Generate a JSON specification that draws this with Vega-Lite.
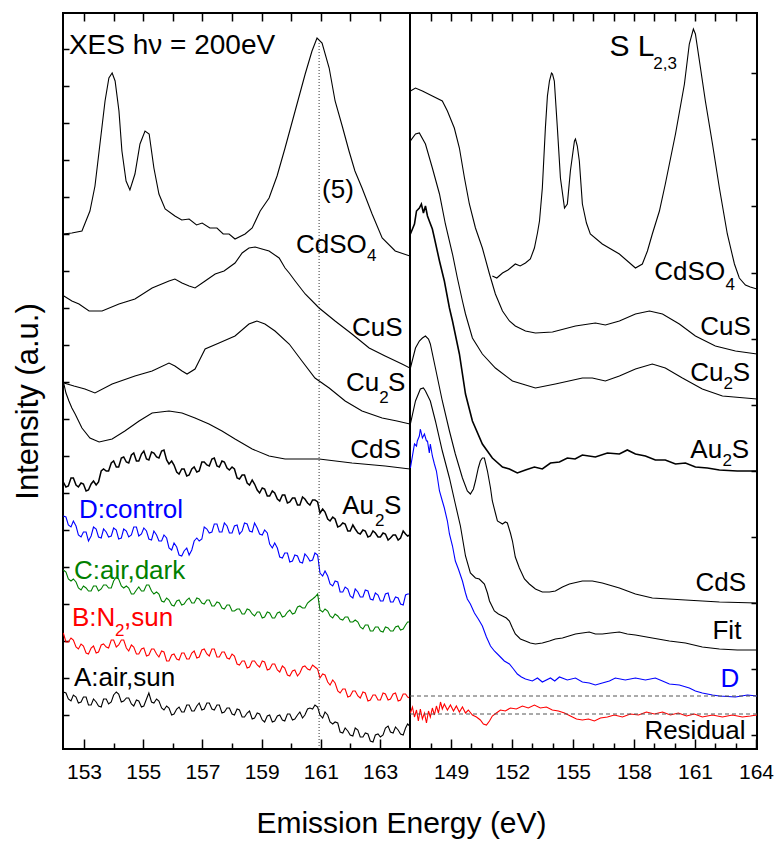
{
"$schema":"https://vega.github.io/schema/vega-lite/v6.json",
"padding":{"left":11,"top":11,"right":5,"bottom":5},
"background":"white",
"bounds":"flush",
"spacing":0,
"config":{"font":"Liberation Sans","view":{"stroke":"black","strokeWidth":2},"axis":{"grid":false,"domain":false,"tickColor":"black","tickWidth":1.5,"labelColor":"black","titleColor":"black","titleFontWeight":"normal","labelFlush":false}},
"datasets":{
"left":[
{"s":"CdSO4","x":152.29,"y":515},{"s":"CdSO4","x":152.59,"y":516},{"s":"CdSO4","x":152.93,"y":518},{"s":"CdSO4","x":153.2,"y":538},{"s":"CdSO4","x":153.37,"y":563},{"s":"CdSO4","x":153.51,"y":598},{"s":"CdSO4","x":153.61,"y":623},{"s":"CdSO4","x":153.71,"y":648},{"s":"CdSO4","x":153.84,"y":671},{"s":"CdSO4","x":153.95,"y":676},{"s":"CdSO4","x":154.05,"y":668},{"s":"CdSO4","x":154.18,"y":638},{"s":"CdSO4","x":154.28,"y":598},{"s":"CdSO4","x":154.42,"y":568},{"s":"CdSO4","x":154.55,"y":559},{"s":"CdSO4","x":154.72,"y":575},{"s":"CdSO4","x":154.89,"y":605},{"s":"CdSO4","x":155.06,"y":618},{"s":"CdSO4","x":155.2,"y":615},{"s":"CdSO4","x":155.36,"y":581},{"s":"CdSO4","x":155.53,"y":555},{"s":"CdSO4","x":155.74,"y":540},{"s":"CdSO4","x":156.07,"y":533},{"s":"CdSO4","x":156.3,"y":529},{"s":"CdSO4","x":156.55,"y":530},{"s":"CdSO4","x":156.8,"y":524},{"s":"CdSO4","x":156.99,"y":526},{"s":"CdSO4","x":157.25,"y":521},{"s":"CdSO4","x":157.49,"y":521},{"s":"CdSO4","x":157.7,"y":515},{"s":"CdSO4","x":157.9,"y":515},{"s":"CdSO4","x":158.1,"y":510},{"s":"CdSO4","x":158.44,"y":515},{"s":"CdSO4","x":158.68,"y":521},{"s":"CdSO4","x":158.95,"y":538},{"s":"CdSO4","x":159.25,"y":551},{"s":"CdSO4","x":159.52,"y":573},{"s":"CdSO4","x":159.79,"y":601},{"s":"CdSO4","x":160.13,"y":638},{"s":"CdSO4","x":160.47,"y":675},{"s":"CdSO4","x":160.7,"y":698},{"s":"CdSO4","x":160.87,"y":711},{"s":"CdSO4","x":161.04,"y":706},{"s":"CdSO4","x":161.28,"y":681},{"s":"CdSO4","x":161.48,"y":648},{"s":"CdSO4","x":161.72,"y":623},{"s":"CdSO4","x":161.95,"y":598},{"s":"CdSO4","x":162.15,"y":578},{"s":"CdSO4","x":162.39,"y":561},{"s":"CdSO4","x":162.73,"y":535},{"s":"CdSO4","x":163.07,"y":511},{"s":"CdSO4","x":163.51,"y":498},{"s":"CdSO4","x":164.01,"y":493},
{"s":"CuS","x":152.32,"y":453},{"s":"CuS","x":152.59,"y":448},{"s":"CuS","x":152.83,"y":445},{"s":"CuS","x":153.17,"y":438},{"s":"CuS","x":153.61,"y":438},{"s":"CuS","x":154.18,"y":445},{"s":"CuS","x":154.72,"y":450},{"s":"CuS","x":155.3,"y":461},{"s":"CuS","x":155.87,"y":468},{"s":"CuS","x":156.07,"y":470},{"s":"CuS","x":156.31,"y":466},{"s":"CuS","x":156.55,"y":463},{"s":"CuS","x":156.75,"y":461},{"s":"CuS","x":157.09,"y":468},{"s":"CuS","x":157.43,"y":475},{"s":"CuS","x":157.73,"y":478},{"s":"CuS","x":158.1,"y":486},{"s":"CuS","x":158.34,"y":496},{"s":"CuS","x":158.57,"y":501},{"s":"CuS","x":158.78,"y":502},{"s":"CuS","x":159.01,"y":500},{"s":"CuS","x":159.25,"y":498},{"s":"CuS","x":159.59,"y":491},{"s":"CuS","x":159.79,"y":481},{"s":"CuS","x":159.93,"y":476},{"s":"CuS","x":160.13,"y":468},{"s":"CuS","x":160.47,"y":455},{"s":"CuS","x":160.94,"y":441},{"s":"CuS","x":161.48,"y":428},{"s":"CuS","x":162.05,"y":415},{"s":"CuS","x":162.63,"y":401},{"s":"CuS","x":163.17,"y":393},{"s":"CuS","x":163.74,"y":385},{"s":"CuS","x":164.01,"y":381},
{"s":"Cu2S","x":152.32,"y":366},{"s":"Cu2S","x":152.66,"y":363},{"s":"Cu2S","x":153.03,"y":360},{"s":"Cu2S","x":153.37,"y":356},{"s":"Cu2S","x":153.95,"y":365},{"s":"Cu2S","x":154.72,"y":373},{"s":"Cu2S","x":155.3,"y":378},{"s":"Cu2S","x":155.87,"y":386},{"s":"Cu2S","x":156.07,"y":383},{"s":"Cu2S","x":156.31,"y":378},{"s":"Cu2S","x":156.48,"y":375},{"s":"Cu2S","x":156.75,"y":380},{"s":"Cu2S","x":156.92,"y":390},{"s":"Cu2S","x":157.09,"y":400},{"s":"Cu2S","x":157.56,"y":406},{"s":"Cu2S","x":158.1,"y":413},{"s":"Cu2S","x":158.57,"y":425},{"s":"Cu2S","x":158.84,"y":428},{"s":"Cu2S","x":159.11,"y":425},{"s":"Cu2S","x":159.45,"y":418},{"s":"Cu2S","x":159.93,"y":405},{"s":"Cu2S","x":160.36,"y":388},{"s":"Cu2S","x":160.8,"y":371},{"s":"Cu2S","x":161.28,"y":361},{"s":"Cu2S","x":161.82,"y":348},{"s":"Cu2S","x":162.39,"y":338},{"s":"Cu2S","x":163.07,"y":331},{"s":"Cu2S","x":163.57,"y":328},{"s":"Cu2S","x":164.01,"y":325},
{"s":"CdS","x":152.32,"y":365},{"s":"CdS","x":152.39,"y":356},{"s":"CdS","x":152.49,"y":348},{"s":"CdS","x":152.59,"y":341},{"s":"CdS","x":152.7,"y":335},{"s":"CdS","x":152.93,"y":321},{"s":"CdS","x":153.2,"y":311},{"s":"CdS","x":153.51,"y":307},{"s":"CdS","x":153.95,"y":310},{"s":"CdS","x":154.38,"y":318},{"s":"CdS","x":154.86,"y":328},{"s":"CdS","x":155.3,"y":336},{"s":"CdS","x":155.87,"y":338},{"s":"CdS","x":156.31,"y":336},{"s":"CdS","x":156.75,"y":331},{"s":"CdS","x":157.22,"y":325},{"s":"CdS","x":157.66,"y":318},{"s":"CdS","x":158.1,"y":310},{"s":"CdS","x":158.68,"y":300},{"s":"CdS","x":159.25,"y":293},{"s":"CdS","x":159.79,"y":290},{"s":"CdS","x":160.94,"y":290},{"s":"CdS","x":162.05,"y":286},{"s":"CdS","x":163.17,"y":283},{"s":"CdS","x":164.01,"y":280},
{"s":"Au2S","x":152.3,"y":267},{"s":"Au2S","x":152.47,"y":263},{"s":"Au2S","x":152.64,"y":271},{"s":"Au2S","x":152.81,"y":262},{"s":"Au2S","x":152.98,"y":265},{"s":"Au2S","x":153.15,"y":259},{"s":"Au2S","x":153.32,"y":268},{"s":"Au2S","x":153.49,"y":267},{"s":"Au2S","x":153.66,"y":280},{"s":"Au2S","x":153.83,"y":278},{"s":"Au2S","x":154.0,"y":288},{"s":"Au2S","x":154.17,"y":282},{"s":"Au2S","x":154.34,"y":292},{"s":"Au2S","x":154.51,"y":286},{"s":"Au2S","x":154.68,"y":296},{"s":"Au2S","x":154.85,"y":288},{"s":"Au2S","x":155.02,"y":298},{"s":"Au2S","x":155.19,"y":289},{"s":"Au2S","x":155.36,"y":296},{"s":"Au2S","x":155.53,"y":291},{"s":"Au2S","x":155.7,"y":299},{"s":"Au2S","x":155.87,"y":285},{"s":"Au2S","x":156.04,"y":284},{"s":"Au2S","x":156.21,"y":275},{"s":"Au2S","x":156.38,"y":280},{"s":"Au2S","x":156.55,"y":274},{"s":"Au2S","x":156.72,"y":282},{"s":"Au2S","x":156.89,"y":278},{"s":"Au2S","x":157.06,"y":287},{"s":"Au2S","x":157.23,"y":283},{"s":"Au2S","x":157.4,"y":291},{"s":"Au2S","x":157.57,"y":282},{"s":"Au2S","x":157.74,"y":287},{"s":"Au2S","x":157.91,"y":279},{"s":"Au2S","x":158.08,"y":280},{"s":"Au2S","x":158.25,"y":270},{"s":"Au2S","x":158.42,"y":274},{"s":"Au2S","x":158.59,"y":264},{"s":"Au2S","x":158.76,"y":265},{"s":"Au2S","x":158.93,"y":256},{"s":"Au2S","x":159.1,"y":260},{"s":"Au2S","x":159.27,"y":253},{"s":"Au2S","x":159.44,"y":256},{"s":"Au2S","x":159.61,"y":248},{"s":"Au2S","x":159.78,"y":254},{"s":"Au2S","x":159.95,"y":247},{"s":"Au2S","x":160.12,"y":251},{"s":"Au2S","x":160.29,"y":244},{"s":"Au2S","x":160.46,"y":250},{"s":"Au2S","x":160.63,"y":244},{"s":"Au2S","x":160.8,"y":249},{"s":"Au2S","x":160.97,"y":236},{"s":"Au2S","x":161.14,"y":237},{"s":"Au2S","x":161.31,"y":228},{"s":"Au2S","x":161.48,"y":230},{"s":"Au2S","x":161.65,"y":223},{"s":"Au2S","x":161.82,"y":225},{"s":"Au2S","x":161.99,"y":218},{"s":"Au2S","x":162.16,"y":220},{"s":"Au2S","x":162.33,"y":215},{"s":"Au2S","x":162.5,"y":218},{"s":"Au2S","x":162.67,"y":213},{"s":"Au2S","x":162.84,"y":216},{"s":"Au2S","x":163.01,"y":212},{"s":"Au2S","x":163.18,"y":215},{"s":"Au2S","x":163.35,"y":211},{"s":"Au2S","x":163.52,"y":214},{"s":"Au2S","x":163.69,"y":211},{"s":"Au2S","x":163.86,"y":215},{"s":"Au2S","x":164.0,"y":214},
{"s":"Au2S","x":152.39,"y":262},{"s":"Au2S","x":152.56,"y":271},{"s":"Au2S","x":152.73,"y":264},{"s":"Au2S","x":152.9,"y":266},{"s":"Au2S","x":153.07,"y":258},{"s":"Au2S","x":153.24,"y":265},{"s":"Au2S","x":153.41,"y":264},{"s":"Au2S","x":153.58,"y":278},{"s":"Au2S","x":153.75,"y":278},{"s":"Au2S","x":153.92,"y":286},{"s":"Au2S","x":154.09,"y":282},{"s":"Au2S","x":154.26,"y":291},{"s":"Au2S","x":154.43,"y":287},{"s":"Au2S","x":154.6,"y":294},{"s":"Au2S","x":154.77,"y":288},{"s":"Au2S","x":154.94,"y":295},{"s":"Au2S","x":155.11,"y":290},{"s":"Au2S","x":155.28,"y":297},{"s":"Au2S","x":155.45,"y":292},{"s":"Au2S","x":155.62,"y":298},{"s":"Au2S","x":155.79,"y":289},{"s":"Au2S","x":155.96,"y":288},{"s":"Au2S","x":156.13,"y":277},{"s":"Au2S","x":156.3,"y":280},{"s":"Au2S","x":156.47,"y":273},{"s":"Au2S","x":156.64,"y":280},{"s":"Au2S","x":156.81,"y":277},{"s":"Au2S","x":156.98,"y":287},{"s":"Au2S","x":157.15,"y":284},{"s":"Au2S","x":157.32,"y":290},{"s":"Au2S","x":157.49,"y":283},{"s":"Au2S","x":157.66,"y":288},{"s":"Au2S","x":157.83,"y":281},{"s":"Au2S","x":158.0,"y":282},{"s":"Au2S","x":158.17,"y":271},{"s":"Au2S","x":158.34,"y":274},{"s":"Au2S","x":158.51,"y":266},{"s":"Au2S","x":158.68,"y":269},{"s":"Au2S","x":158.85,"y":259},{"s":"Au2S","x":159.02,"y":261},{"s":"Au2S","x":159.19,"y":253},{"s":"Au2S","x":159.36,"y":258},{"s":"Au2S","x":159.53,"y":250},{"s":"Au2S","x":159.7,"y":254},{"s":"Au2S","x":159.87,"y":246},{"s":"Au2S","x":160.04,"y":251},{"s":"Au2S","x":160.21,"y":244},{"s":"Au2S","x":160.38,"y":252},{"s":"Au2S","x":160.55,"y":246},{"s":"Au2S","x":160.72,"y":249},{"s":"Au2S","x":160.89,"y":247},{"s":"Au2S","x":161.06,"y":240},{"s":"Au2S","x":161.23,"y":230},{"s":"Au2S","x":161.4,"y":232},{"s":"Au2S","x":161.57,"y":222},{"s":"Au2S","x":161.74,"y":226},{"s":"Au2S","x":161.91,"y":218},{"s":"Au2S","x":162.08,"y":224},{"s":"Au2S","x":162.25,"y":216},{"s":"Au2S","x":162.42,"y":219},{"s":"Au2S","x":162.59,"y":212},{"s":"Au2S","x":162.76,"y":218},{"s":"Au2S","x":162.93,"y":212},{"s":"Au2S","x":163.1,"y":216},{"s":"Au2S","x":163.27,"y":209},{"s":"Au2S","x":163.44,"y":214},{"s":"Au2S","x":163.61,"y":209},{"s":"Au2S","x":163.78,"y":218},{"s":"Au2S","x":163.93,"y":213},
{"s":"D","x":152.3,"y":233},{"s":"D","x":152.47,"y":224},{"s":"D","x":152.64,"y":228},{"s":"D","x":152.81,"y":214},{"s":"D","x":152.98,"y":217},{"s":"D","x":153.15,"y":208},{"s":"D","x":153.32,"y":222},{"s":"D","x":153.49,"y":212},{"s":"D","x":153.66,"y":220},{"s":"D","x":153.83,"y":212},{"s":"D","x":154.0,"y":221},{"s":"D","x":154.17,"y":210},{"s":"D","x":154.34,"y":220},{"s":"D","x":154.51,"y":212},{"s":"D","x":154.68,"y":222},{"s":"D","x":154.85,"y":213},{"s":"D","x":155.02,"y":221},{"s":"D","x":155.19,"y":210},{"s":"D","x":155.36,"y":218},{"s":"D","x":155.53,"y":208},{"s":"D","x":155.7,"y":214},{"s":"D","x":155.87,"y":201},{"s":"D","x":156.04,"y":206},{"s":"D","x":156.21,"y":194},{"s":"D","x":156.38,"y":198},{"s":"D","x":156.55,"y":194},{"s":"D","x":156.72,"y":208},{"s":"D","x":156.89,"y":208},{"s":"D","x":157.06,"y":222},{"s":"D","x":157.23,"y":216},{"s":"D","x":157.4,"y":225},{"s":"D","x":157.57,"y":217},{"s":"D","x":157.74,"y":226},{"s":"D","x":157.91,"y":216},{"s":"D","x":158.08,"y":223},{"s":"D","x":158.25,"y":215},{"s":"D","x":158.42,"y":226},{"s":"D","x":158.59,"y":218},{"s":"D","x":158.76,"y":226},{"s":"D","x":158.93,"y":215},{"s":"D","x":159.1,"y":219},{"s":"D","x":159.27,"y":205},{"s":"D","x":159.44,"y":206},{"s":"D","x":159.61,"y":192},{"s":"D","x":159.78,"y":196},{"s":"D","x":159.95,"y":187},{"s":"D","x":160.12,"y":194},{"s":"D","x":160.29,"y":187},{"s":"D","x":160.46,"y":195},{"s":"D","x":160.63,"y":188},{"s":"D","x":160.8,"y":196},{"s":"D","x":160.97,"y":176},{"s":"D","x":161.14,"y":178},{"s":"D","x":161.31,"y":165},{"s":"D","x":161.48,"y":168},{"s":"D","x":161.65,"y":157},{"s":"D","x":161.82,"y":162},{"s":"D","x":161.99,"y":153},{"s":"D","x":162.16,"y":160},{"s":"D","x":162.33,"y":152},{"s":"D","x":162.5,"y":159},{"s":"D","x":162.67,"y":150},{"s":"D","x":162.84,"y":156},{"s":"D","x":163.01,"y":148},{"s":"D","x":163.18,"y":155},{"s":"D","x":163.35,"y":147},{"s":"D","x":163.52,"y":152},{"s":"D","x":163.69,"y":145},{"s":"D","x":163.86,"y":154},{"s":"D","x":164.0,"y":155},
{"s":"D","x":152.39,"y":232},{"s":"D","x":152.56,"y":222},{"s":"D","x":152.73,"y":223},{"s":"D","x":152.9,"y":212},{"s":"D","x":153.07,"y":217},{"s":"D","x":153.24,"y":213},{"s":"D","x":153.41,"y":220},{"s":"D","x":153.58,"y":211},{"s":"D","x":153.75,"y":217},{"s":"D","x":153.92,"y":213},{"s":"D","x":154.09,"y":219},{"s":"D","x":154.26,"y":211},{"s":"D","x":154.43,"y":218},{"s":"D","x":154.6,"y":214},{"s":"D","x":154.77,"y":222},{"s":"D","x":154.94,"y":215},{"s":"D","x":155.11,"y":218},{"s":"D","x":155.28,"y":209},{"s":"D","x":155.45,"y":214},{"s":"D","x":155.62,"y":208},{"s":"D","x":155.79,"y":211},{"s":"D","x":155.96,"y":199},{"s":"D","x":156.13,"y":202},{"s":"D","x":156.3,"y":193},{"s":"D","x":156.47,"y":201},{"s":"D","x":156.64,"y":199},{"s":"D","x":156.81,"y":211},{"s":"D","x":156.98,"y":210},{"s":"D","x":157.15,"y":220},{"s":"D","x":157.32,"y":217},{"s":"D","x":157.49,"y":225},{"s":"D","x":157.66,"y":217},{"s":"D","x":157.83,"y":223},{"s":"D","x":158.0,"y":216},{"s":"D","x":158.17,"y":224},{"s":"D","x":158.34,"y":218},{"s":"D","x":158.51,"y":225},{"s":"D","x":158.68,"y":217},{"s":"D","x":158.85,"y":221},{"s":"D","x":159.02,"y":214},{"s":"D","x":159.19,"y":216},{"s":"D","x":159.36,"y":201},{"s":"D","x":159.53,"y":201},{"s":"D","x":159.7,"y":191},{"s":"D","x":159.87,"y":196},{"s":"D","x":160.04,"y":188},{"s":"D","x":160.21,"y":193},{"s":"D","x":160.38,"y":186},{"s":"D","x":160.55,"y":192},{"s":"D","x":160.72,"y":189},{"s":"D","x":160.89,"y":194},{"s":"D","x":161.06,"y":173},{"s":"D","x":161.23,"y":173},{"s":"D","x":161.4,"y":163},{"s":"D","x":161.57,"y":167},{"s":"D","x":161.74,"y":157},{"s":"D","x":161.91,"y":160},{"s":"D","x":162.08,"y":151},{"s":"D","x":162.25,"y":157},{"s":"D","x":162.42,"y":152},{"s":"D","x":162.59,"y":158},{"s":"D","x":162.76,"y":149},{"s":"D","x":162.93,"y":154},{"s":"D","x":163.1,"y":148},{"s":"D","x":163.27,"y":156},{"s":"D","x":163.44,"y":147},{"s":"D","x":163.61,"y":151},{"s":"D","x":163.78,"y":144},{"s":"D","x":163.93,"y":155},
{"s":"C","x":152.3,"y":179},{"s":"C","x":152.47,"y":170},{"s":"C","x":152.64,"y":170},{"s":"C","x":152.81,"y":161},{"s":"C","x":152.98,"y":163},{"s":"C","x":153.15,"y":158},{"s":"C","x":153.32,"y":163},{"s":"C","x":153.49,"y":158},{"s":"C","x":153.66,"y":164},{"s":"C","x":153.83,"y":161},{"s":"C","x":154.0,"y":168},{"s":"C","x":154.17,"y":170},{"s":"C","x":154.34,"y":161},{"s":"C","x":154.51,"y":161},{"s":"C","x":154.68,"y":155},{"s":"C","x":154.85,"y":162},{"s":"C","x":155.02,"y":158},{"s":"C","x":155.19,"y":164},{"s":"C","x":155.36,"y":155},{"s":"C","x":155.53,"y":155},{"s":"C","x":155.7,"y":147},{"s":"C","x":155.87,"y":149},{"s":"C","x":156.04,"y":143},{"s":"C","x":156.21,"y":149},{"s":"C","x":156.38,"y":145},{"s":"C","x":156.55,"y":151},{"s":"C","x":156.72,"y":146},{"s":"C","x":156.89,"y":150},{"s":"C","x":157.06,"y":145},{"s":"C","x":157.23,"y":149},{"s":"C","x":157.4,"y":143},{"s":"C","x":157.57,"y":146},{"s":"C","x":157.74,"y":140},{"s":"C","x":157.91,"y":144},{"s":"C","x":158.08,"y":138},{"s":"C","x":158.25,"y":140},{"s":"C","x":158.42,"y":135},{"s":"C","x":158.59,"y":139},{"s":"C","x":158.76,"y":133},{"s":"C","x":158.93,"y":137},{"s":"C","x":159.1,"y":132},{"s":"C","x":159.27,"y":136},{"s":"C","x":159.44,"y":131},{"s":"C","x":159.61,"y":137},{"s":"C","x":159.78,"y":133},{"s":"C","x":159.95,"y":139},{"s":"C","x":160.12,"y":136},{"s":"C","x":160.29,"y":143},{"s":"C","x":160.46,"y":141},{"s":"C","x":160.63,"y":148},{"s":"C","x":160.8,"y":152},{"s":"C","x":160.97,"y":139},{"s":"C","x":161.14,"y":140},{"s":"C","x":161.31,"y":133},{"s":"C","x":161.48,"y":135},{"s":"C","x":161.65,"y":130},{"s":"C","x":161.82,"y":132},{"s":"C","x":161.99,"y":127},{"s":"C","x":162.16,"y":129},{"s":"C","x":162.33,"y":122},{"s":"C","x":162.5,"y":124},{"s":"C","x":162.67,"y":118},{"s":"C","x":162.84,"y":122},{"s":"C","x":163.01,"y":118},{"s":"C","x":163.18,"y":122},{"s":"C","x":163.35,"y":118},{"s":"C","x":163.52,"y":122},{"s":"C","x":163.69,"y":119},{"s":"C","x":163.86,"y":124},{"s":"C","x":164.0,"y":127},
{"s":"C","x":152.39,"y":177},{"s":"C","x":152.56,"y":168},{"s":"C","x":152.73,"y":167},{"s":"C","x":152.9,"y":159},{"s":"C","x":153.07,"y":161},{"s":"C","x":153.24,"y":158},{"s":"C","x":153.41,"y":163},{"s":"C","x":153.58,"y":160},{"s":"C","x":153.75,"y":164},{"s":"C","x":153.92,"y":161},{"s":"C","x":154.09,"y":172},{"s":"C","x":154.26,"y":163},{"s":"C","x":154.43,"y":163},{"s":"C","x":154.6,"y":155},{"s":"C","x":154.77,"y":159},{"s":"C","x":154.94,"y":158},{"s":"C","x":155.11,"y":164},{"s":"C","x":155.28,"y":158},{"s":"C","x":155.45,"y":157},{"s":"C","x":155.62,"y":148},{"s":"C","x":155.79,"y":151},{"s":"C","x":155.96,"y":144},{"s":"C","x":156.13,"y":148},{"s":"C","x":156.3,"y":144},{"s":"C","x":156.47,"y":149},{"s":"C","x":156.64,"y":146},{"s":"C","x":156.81,"y":151},{"s":"C","x":156.98,"y":146},{"s":"C","x":157.15,"y":149},{"s":"C","x":157.32,"y":143},{"s":"C","x":157.49,"y":147},{"s":"C","x":157.66,"y":141},{"s":"C","x":157.83,"y":144},{"s":"C","x":158.0,"y":138},{"s":"C","x":158.17,"y":140},{"s":"C","x":158.34,"y":135},{"s":"C","x":158.51,"y":140},{"s":"C","x":158.68,"y":135},{"s":"C","x":158.85,"y":137},{"s":"C","x":159.02,"y":131},{"s":"C","x":159.19,"y":137},{"s":"C","x":159.36,"y":131},{"s":"C","x":159.53,"y":136},{"s":"C","x":159.7,"y":132},{"s":"C","x":159.87,"y":137},{"s":"C","x":160.04,"y":135},{"s":"C","x":160.21,"y":142},{"s":"C","x":160.38,"y":141},{"s":"C","x":160.55,"y":146},{"s":"C","x":160.72,"y":150},{"s":"C","x":160.89,"y":155},{"s":"C","x":161.06,"y":137},{"s":"C","x":161.23,"y":138},{"s":"C","x":161.4,"y":131},{"s":"C","x":161.57,"y":133},{"s":"C","x":161.74,"y":129},{"s":"C","x":161.91,"y":132},{"s":"C","x":162.08,"y":127},{"s":"C","x":162.25,"y":127},{"s":"C","x":162.42,"y":120},{"s":"C","x":162.59,"y":124},{"s":"C","x":162.76,"y":118},{"s":"C","x":162.93,"y":122},{"s":"C","x":163.1,"y":117},{"s":"C","x":163.27,"y":121},{"s":"C","x":163.44,"y":118},{"s":"C","x":163.61,"y":123},{"s":"C","x":163.78,"y":120},{"s":"C","x":163.93,"y":127},
{"s":"B","x":152.3,"y":116},{"s":"B","x":152.47,"y":107},{"s":"B","x":152.64,"y":109},{"s":"B","x":152.81,"y":100},{"s":"B","x":152.98,"y":103},{"s":"B","x":153.15,"y":95},{"s":"B","x":153.32,"y":103},{"s":"B","x":153.49,"y":97},{"s":"B","x":153.66,"y":105},{"s":"B","x":153.83,"y":101},{"s":"B","x":154.0,"y":109},{"s":"B","x":154.17,"y":104},{"s":"B","x":154.34,"y":109},{"s":"B","x":154.51,"y":98},{"s":"B","x":154.68,"y":102},{"s":"B","x":154.85,"y":95},{"s":"B","x":155.02,"y":101},{"s":"B","x":155.19,"y":94},{"s":"B","x":155.36,"y":100},{"s":"B","x":155.53,"y":92},{"s":"B","x":155.7,"y":97},{"s":"B","x":155.87,"y":88},{"s":"B","x":156.04,"y":95},{"s":"B","x":156.21,"y":89},{"s":"B","x":156.38,"y":96},{"s":"B","x":156.55,"y":90},{"s":"B","x":156.72,"y":98},{"s":"B","x":156.89,"y":92},{"s":"B","x":157.06,"y":100},{"s":"B","x":157.23,"y":93},{"s":"B","x":157.4,"y":100},{"s":"B","x":157.57,"y":92},{"s":"B","x":157.74,"y":97},{"s":"B","x":157.91,"y":90},{"s":"B","x":158.08,"y":93},{"s":"B","x":158.25,"y":84},{"s":"B","x":158.42,"y":88},{"s":"B","x":158.59,"y":82},{"s":"B","x":158.76,"y":88},{"s":"B","x":158.93,"y":82},{"s":"B","x":159.1,"y":87},{"s":"B","x":159.27,"y":80},{"s":"B","x":159.44,"y":85},{"s":"B","x":159.61,"y":77},{"s":"B","x":159.78,"y":81},{"s":"B","x":159.95,"y":73},{"s":"B","x":160.12,"y":79},{"s":"B","x":160.29,"y":76},{"s":"B","x":160.46,"y":83},{"s":"B","x":160.63,"y":79},{"s":"B","x":160.8,"y":82},{"s":"B","x":160.97,"y":71},{"s":"B","x":161.14,"y":74},{"s":"B","x":161.31,"y":64},{"s":"B","x":161.48,"y":66},{"s":"B","x":161.65,"y":56},{"s":"B","x":161.82,"y":60},{"s":"B","x":161.99,"y":53},{"s":"B","x":162.16,"y":58},{"s":"B","x":162.33,"y":51},{"s":"B","x":162.5,"y":56},{"s":"B","x":162.67,"y":49},{"s":"B","x":162.84,"y":54},{"s":"B","x":163.01,"y":49},{"s":"B","x":163.18,"y":55},{"s":"B","x":163.35,"y":50},{"s":"B","x":163.52,"y":56},{"s":"B","x":163.69,"y":49},{"s":"B","x":163.86,"y":55},{"s":"B","x":164.0,"y":51},
{"s":"B","x":152.39,"y":107},{"s":"B","x":152.56,"y":111},{"s":"B","x":152.73,"y":102},{"s":"B","x":152.9,"y":105},{"s":"B","x":153.07,"y":96},{"s":"B","x":153.24,"y":101},{"s":"B","x":153.41,"y":96},{"s":"B","x":153.58,"y":104},{"s":"B","x":153.75,"y":102},{"s":"B","x":153.92,"y":109},{"s":"B","x":154.09,"y":102},{"s":"B","x":154.26,"y":109},{"s":"B","x":154.43,"y":101},{"s":"B","x":154.6,"y":104},{"s":"B","x":154.77,"y":95},{"s":"B","x":154.94,"y":100},{"s":"B","x":155.11,"y":93},{"s":"B","x":155.28,"y":100},{"s":"B","x":155.45,"y":95},{"s":"B","x":155.62,"y":98},{"s":"B","x":155.79,"y":88},{"s":"B","x":155.96,"y":94},{"s":"B","x":156.13,"y":90},{"s":"B","x":156.3,"y":96},{"s":"B","x":156.47,"y":90},{"s":"B","x":156.64,"y":96},{"s":"B","x":156.81,"y":91},{"s":"B","x":156.98,"y":99},{"s":"B","x":157.15,"y":95},{"s":"B","x":157.32,"y":100},{"s":"B","x":157.49,"y":92},{"s":"B","x":157.66,"y":97},{"s":"B","x":157.83,"y":91},{"s":"B","x":158.0,"y":95},{"s":"B","x":158.17,"y":85},{"s":"B","x":158.34,"y":88},{"s":"B","x":158.51,"y":81},{"s":"B","x":158.68,"y":88},{"s":"B","x":158.85,"y":84},{"s":"B","x":159.02,"y":88},{"s":"B","x":159.19,"y":79},{"s":"B","x":159.36,"y":85},{"s":"B","x":159.53,"y":79},{"s":"B","x":159.7,"y":83},{"s":"B","x":159.87,"y":74},{"s":"B","x":160.04,"y":78},{"s":"B","x":160.21,"y":73},{"s":"B","x":160.38,"y":82},{"s":"B","x":160.55,"y":80},{"s":"B","x":160.72,"y":84},{"s":"B","x":160.89,"y":80},{"s":"B","x":161.06,"y":75},{"s":"B","x":161.23,"y":67},{"s":"B","x":161.4,"y":69},{"s":"B","x":161.57,"y":58},{"s":"B","x":161.74,"y":60},{"s":"B","x":161.91,"y":52},{"s":"B","x":162.08,"y":58},{"s":"B","x":162.25,"y":53},{"s":"B","x":162.42,"y":57},{"s":"B","x":162.59,"y":48},{"s":"B","x":162.76,"y":54},{"s":"B","x":162.93,"y":49},{"s":"B","x":163.1,"y":56},{"s":"B","x":163.27,"y":49},{"s":"B","x":163.44,"y":55},{"s":"B","x":163.61,"y":48},{"s":"B","x":163.78,"y":55},{"s":"B","x":163.93,"y":52},
{"s":"A","x":152.3,"y":57},{"s":"A","x":152.47,"y":50},{"s":"A","x":152.64,"y":54},{"s":"A","x":152.81,"y":46},{"s":"A","x":152.98,"y":52},{"s":"A","x":153.15,"y":44},{"s":"A","x":153.32,"y":50},{"s":"A","x":153.49,"y":43},{"s":"A","x":153.66,"y":50},{"s":"A","x":153.83,"y":45},{"s":"A","x":154.0,"y":54},{"s":"A","x":154.17,"y":55},{"s":"A","x":154.34,"y":48},{"s":"A","x":154.51,"y":51},{"s":"A","x":154.68,"y":43},{"s":"A","x":154.85,"y":48},{"s":"A","x":155.02,"y":43},{"s":"A","x":155.19,"y":56},{"s":"A","x":155.36,"y":46},{"s":"A","x":155.53,"y":48},{"s":"A","x":155.7,"y":39},{"s":"A","x":155.87,"y":41},{"s":"A","x":156.04,"y":35},{"s":"A","x":156.21,"y":42},{"s":"A","x":156.38,"y":37},{"s":"A","x":156.55,"y":44},{"s":"A","x":156.72,"y":38},{"s":"A","x":156.89,"y":46},{"s":"A","x":157.06,"y":40},{"s":"A","x":157.23,"y":46},{"s":"A","x":157.4,"y":39},{"s":"A","x":157.57,"y":44},{"s":"A","x":157.74,"y":37},{"s":"A","x":157.91,"y":41},{"s":"A","x":158.08,"y":34},{"s":"A","x":158.25,"y":39},{"s":"A","x":158.42,"y":32},{"s":"A","x":158.59,"y":38},{"s":"A","x":158.76,"y":31},{"s":"A","x":158.93,"y":35},{"s":"A","x":159.1,"y":27},{"s":"A","x":159.27,"y":34},{"s":"A","x":159.44,"y":28},{"s":"A","x":159.61,"y":34},{"s":"A","x":159.78,"y":28},{"s":"A","x":159.95,"y":35},{"s":"A","x":160.12,"y":30},{"s":"A","x":160.29,"y":37},{"s":"A","x":160.46,"y":34},{"s":"A","x":160.63,"y":41},{"s":"A","x":160.8,"y":44},{"s":"A","x":160.97,"y":34},{"s":"A","x":161.14,"y":37},{"s":"A","x":161.31,"y":27},{"s":"A","x":161.48,"y":27},{"s":"A","x":161.65,"y":17},{"s":"A","x":161.82,"y":21},{"s":"A","x":161.99,"y":14},{"s":"A","x":162.16,"y":21},{"s":"A","x":162.33,"y":12},{"s":"A","x":162.5,"y":16},{"s":"A","x":162.67,"y":8},{"s":"A","x":162.84,"y":14},{"s":"A","x":163.01,"y":12},{"s":"A","x":163.18,"y":21},{"s":"A","x":163.35,"y":17},{"s":"A","x":163.52,"y":22},{"s":"A","x":163.69,"y":15},{"s":"A","x":163.86,"y":21},{"s":"A","x":164.0,"y":23},
{"s":"A","x":152.39,"y":56},{"s":"A","x":152.56,"y":48},{"s":"A","x":152.73,"y":52},{"s":"A","x":152.9,"y":47},{"s":"A","x":153.07,"y":52},{"s":"A","x":153.24,"y":44},{"s":"A","x":153.41,"y":47},{"s":"A","x":153.58,"y":42},{"s":"A","x":153.75,"y":50},{"s":"A","x":153.92,"y":47},{"s":"A","x":154.09,"y":57},{"s":"A","x":154.26,"y":47},{"s":"A","x":154.43,"y":51},{"s":"A","x":154.6,"y":45},{"s":"A","x":154.77,"y":49},{"s":"A","x":154.94,"y":42},{"s":"A","x":155.11,"y":50},{"s":"A","x":155.28,"y":47},{"s":"A","x":155.45,"y":50},{"s":"A","x":155.62,"y":41},{"s":"A","x":155.79,"y":43},{"s":"A","x":155.96,"y":34},{"s":"A","x":156.13,"y":40},{"s":"A","x":156.3,"y":37},{"s":"A","x":156.47,"y":44},{"s":"A","x":156.64,"y":38},{"s":"A","x":156.81,"y":43},{"s":"A","x":156.98,"y":39},{"s":"A","x":157.15,"y":46},{"s":"A","x":157.32,"y":40},{"s":"A","x":157.49,"y":44},{"s":"A","x":157.66,"y":36},{"s":"A","x":157.83,"y":41},{"s":"A","x":158.0,"y":35},{"s":"A","x":158.17,"y":40},{"s":"A","x":158.34,"y":32},{"s":"A","x":158.51,"y":36},{"s":"A","x":158.68,"y":30},{"s":"A","x":158.85,"y":36},{"s":"A","x":159.02,"y":29},{"s":"A","x":159.19,"y":33},{"s":"A","x":159.36,"y":27},{"s":"A","x":159.53,"y":33},{"s":"A","x":159.7,"y":29},{"s":"A","x":159.87,"y":35},{"s":"A","x":160.04,"y":29},{"s":"A","x":160.21,"y":34},{"s":"A","x":160.38,"y":31},{"s":"A","x":160.55,"y":40},{"s":"A","x":160.72,"y":40},{"s":"A","x":160.89,"y":42},{"s":"A","x":161.06,"y":31},{"s":"A","x":161.23,"y":34},{"s":"A","x":161.4,"y":25},{"s":"A","x":161.57,"y":26},{"s":"A","x":161.74,"y":16},{"s":"A","x":161.91,"y":18},{"s":"A","x":162.08,"y":13},{"s":"A","x":162.25,"y":19},{"s":"A","x":162.42,"y":12},{"s":"A","x":162.59,"y":15},{"s":"A","x":162.76,"y":7},{"s":"A","x":162.93,"y":15},{"s":"A","x":163.1,"y":14},{"s":"A","x":163.27,"y":23},{"s":"A","x":163.44,"y":16},{"s":"A","x":163.61,"y":19},{"s":"A","x":163.78,"y":14},{"s":"A","x":163.93,"y":25}
],
"right":[
{"s":"CdSO4","x":151.03,"y":473},{"s":"CdSO4","x":151.25,"y":471},{"s":"CdSO4","x":151.53,"y":476},{"s":"CdSO4","x":151.8,"y":479},{"s":"CdSO4","x":152.16,"y":485},{"s":"CdSO4","x":152.4,"y":483},{"s":"CdSO4","x":152.66,"y":486},{"s":"CdSO4","x":152.9,"y":490},{"s":"CdSO4","x":153.1,"y":501},{"s":"CdSO4","x":153.25,"y":516},{"s":"CdSO4","x":153.35,"y":528},{"s":"CdSO4","x":153.49,"y":561},{"s":"CdSO4","x":153.64,"y":621},{"s":"CdSO4","x":153.74,"y":653},{"s":"CdSO4","x":153.84,"y":668},{"s":"CdSO4","x":153.94,"y":676},{"s":"CdSO4","x":153.99,"y":675},{"s":"CdSO4","x":154.08,"y":668},{"s":"CdSO4","x":154.23,"y":621},{"s":"CdSO4","x":154.38,"y":571},{"s":"CdSO4","x":154.58,"y":541},{"s":"CdSO4","x":154.72,"y":545},{"s":"CdSO4","x":154.87,"y":578},{"s":"CdSO4","x":155.07,"y":608},{"s":"CdSO4","x":155.12,"y":610},{"s":"CdSO4","x":155.21,"y":603},{"s":"CdSO4","x":155.31,"y":588},{"s":"CdSO4","x":155.46,"y":545},{"s":"CdSO4","x":155.66,"y":526},{"s":"CdSO4","x":155.85,"y":515},{"s":"CdSO4","x":156.44,"y":505},{"s":"CdSO4","x":157.28,"y":495},{"s":"CdSO4","x":158.07,"y":481},{"s":"CdSO4","x":158.41,"y":485},{"s":"CdSO4","x":158.66,"y":498},{"s":"CdSO4","x":158.9,"y":515},{"s":"CdSO4","x":159.25,"y":538},{"s":"CdSO4","x":159.54,"y":565},{"s":"CdSO4","x":160.04,"y":615},{"s":"CdSO4","x":160.48,"y":665},{"s":"CdSO4","x":160.72,"y":705},{"s":"CdSO4","x":160.92,"y":720},{"s":"CdSO4","x":161.02,"y":715},{"s":"CdSO4","x":161.27,"y":681},{"s":"CdSO4","x":161.51,"y":648},{"s":"CdSO4","x":161.86,"y":605},{"s":"CdSO4","x":162.2,"y":561},{"s":"CdSO4","x":162.59,"y":515},{"s":"CdSO4","x":162.94,"y":485},{"s":"CdSO4","x":163.18,"y":471},{"s":"CdSO4","x":163.48,"y":464},{"s":"CdSO4","x":163.72,"y":462},{"s":"CdSO4","x":164.05,"y":460},
{"s":"CuS","x":147.0,"y":658},{"s":"CuS","x":147.25,"y":661},{"s":"CuS","x":147.59,"y":658},{"s":"CuS","x":148.08,"y":653},{"s":"CuS","x":148.57,"y":648},{"s":"CuS","x":148.82,"y":638},{"s":"CuS","x":149.16,"y":621},{"s":"CuS","x":149.41,"y":601},{"s":"CuS","x":149.66,"y":571},{"s":"CuS","x":149.9,"y":545},{"s":"CuS","x":150.2,"y":521},{"s":"CuS","x":150.54,"y":501},{"s":"CuS","x":150.89,"y":475},{"s":"CuS","x":151.18,"y":455},{"s":"CuS","x":151.53,"y":438},{"s":"CuS","x":151.87,"y":428},{"s":"CuS","x":152.16,"y":423},{"s":"CuS","x":152.66,"y":418},{"s":"CuS","x":153.15,"y":416},{"s":"CuS","x":153.99,"y":417},{"s":"CuS","x":155.12,"y":423},{"s":"CuS","x":156.1,"y":426},{"s":"CuS","x":156.59,"y":424},{"s":"CuS","x":157.28,"y":428},{"s":"CuS","x":158.07,"y":435},{"s":"CuS","x":158.76,"y":438},{"s":"CuS","x":159.4,"y":435},{"s":"CuS","x":160.23,"y":425},{"s":"CuS","x":161.02,"y":413},{"s":"CuS","x":162.0,"y":403},{"s":"CuS","x":162.99,"y":398},{"s":"CuS","x":164.05,"y":395},
{"s":"Cu2S","x":147.0,"y":608},{"s":"Cu2S","x":147.25,"y":615},{"s":"Cu2S","x":147.44,"y":616},{"s":"Cu2S","x":147.74,"y":605},{"s":"Cu2S","x":148.08,"y":581},{"s":"Cu2S","x":148.43,"y":555},{"s":"Cu2S","x":148.72,"y":525},{"s":"Cu2S","x":149.07,"y":495},{"s":"Cu2S","x":149.31,"y":471},{"s":"Cu2S","x":149.56,"y":448},{"s":"Cu2S","x":149.71,"y":435},{"s":"Cu2S","x":150.05,"y":411},{"s":"Cu2S","x":150.54,"y":395},{"s":"Cu2S","x":151.18,"y":381},{"s":"Cu2S","x":152.02,"y":368},{"s":"Cu2S","x":153.15,"y":361},{"s":"Cu2S","x":154.13,"y":365},{"s":"Cu2S","x":155.46,"y":371},{"s":"Cu2S","x":155.95,"y":371},{"s":"Cu2S","x":156.59,"y":368},{"s":"Cu2S","x":157.28,"y":373},{"s":"Cu2S","x":158.07,"y":380},{"s":"Cu2S","x":158.9,"y":385},{"s":"Cu2S","x":159.54,"y":381},{"s":"Cu2S","x":160.38,"y":371},{"s":"Cu2S","x":161.36,"y":360},{"s":"Cu2S","x":162.35,"y":353},{"s":"Cu2S","x":164.05,"y":350},
{"s":"Au2S","x":147.0,"y":515},{"s":"Au2S","x":147.2,"y":525},{"s":"Au2S","x":147.3,"y":538},{"s":"Au2S","x":147.44,"y":541},{"s":"Au2S","x":147.54,"y":545},{"s":"Au2S","x":147.64,"y":536},{"s":"Au2S","x":147.74,"y":543},{"s":"Au2S","x":147.84,"y":533},{"s":"Au2S","x":147.93,"y":528},{"s":"Au2S","x":148.08,"y":520},{"s":"Au2S","x":148.18,"y":511},{"s":"Au2S","x":148.43,"y":488},{"s":"Au2S","x":148.67,"y":468},{"s":"Au2S","x":148.92,"y":441},{"s":"Au2S","x":149.07,"y":428},{"s":"Au2S","x":149.41,"y":395},{"s":"Au2S","x":149.71,"y":355},{"s":"Au2S","x":150.05,"y":328},{"s":"Au2S","x":150.54,"y":305},{"s":"Au2S","x":151.03,"y":291},{"s":"Au2S","x":151.53,"y":282},{"s":"Au2S","x":151.87,"y":280},{"s":"Au2S","x":152.26,"y":276},{"s":"Au2S","x":152.66,"y":279},{"s":"Au2S","x":153.1,"y":282},{"s":"Au2S","x":153.49,"y":280},{"s":"Au2S","x":153.89,"y":286},{"s":"Au2S","x":154.33,"y":287},{"s":"Au2S","x":154.72,"y":291},{"s":"Au2S","x":155.1,"y":290},{"s":"Au2S","x":155.46,"y":294},{"s":"Au2S","x":156.1,"y":292},{"s":"Au2S","x":156.69,"y":296},{"s":"Au2S","x":157.28,"y":295},{"s":"Au2S","x":157.67,"y":299},{"s":"Au2S","x":158.07,"y":295},{"s":"Au2S","x":158.56,"y":293},{"s":"Au2S","x":159.05,"y":289},{"s":"Au2S","x":159.54,"y":289},{"s":"Au2S","x":160.04,"y":285},{"s":"Au2S","x":160.53,"y":286},{"s":"Au2S","x":161.02,"y":282},{"s":"Au2S","x":161.61,"y":281},{"s":"Au2S","x":162.2,"y":279},{"s":"Au2S","x":163.08,"y":278},{"s":"Au2S","x":164.05,"y":278},
{"s":"CdS","x":147.0,"y":381},{"s":"CdS","x":147.25,"y":401},{"s":"CdS","x":147.44,"y":408},{"s":"CdS","x":147.59,"y":411},{"s":"CdS","x":147.74,"y":413},{"s":"CdS","x":147.89,"y":410},{"s":"CdS","x":147.98,"y":405},{"s":"CdS","x":148.23,"y":381},{"s":"CdS","x":148.57,"y":348},{"s":"CdS","x":148.92,"y":318},{"s":"CdS","x":149.21,"y":295},{"s":"CdS","x":149.56,"y":271},{"s":"CdS","x":149.8,"y":258},{"s":"CdS","x":149.95,"y":255},{"s":"CdS","x":150.1,"y":260},{"s":"CdS","x":150.2,"y":268},{"s":"CdS","x":150.34,"y":281},{"s":"CdS","x":150.44,"y":288},{"s":"CdS","x":150.54,"y":291},{"s":"CdS","x":150.64,"y":291},{"s":"CdS","x":150.79,"y":278},{"s":"CdS","x":150.94,"y":261},{"s":"CdS","x":151.03,"y":248},{"s":"CdS","x":151.18,"y":236},{"s":"CdS","x":151.28,"y":228},{"s":"CdS","x":151.53,"y":225},{"s":"CdS","x":151.67,"y":227},{"s":"CdS","x":151.77,"y":226},{"s":"CdS","x":151.92,"y":216},{"s":"CdS","x":152.02,"y":208},{"s":"CdS","x":152.16,"y":192},{"s":"CdS","x":152.36,"y":181},{"s":"CdS","x":152.61,"y":170},{"s":"CdS","x":152.85,"y":165},{"s":"CdS","x":153.15,"y":160},{"s":"CdS","x":153.49,"y":157},{"s":"CdS","x":153.84,"y":157},{"s":"CdS","x":154.13,"y":158},{"s":"CdS","x":154.48,"y":162},{"s":"CdS","x":154.82,"y":165},{"s":"CdS","x":155.46,"y":168},{"s":"CdS","x":155.95,"y":168},{"s":"CdS","x":156.44,"y":166},{"s":"CdS","x":157.28,"y":161},{"s":"CdS","x":158.07,"y":155},{"s":"CdS","x":158.9,"y":151},{"s":"CdS","x":160.53,"y":149},{"s":"CdS","x":162.2,"y":147},{"s":"CdS","x":164.05,"y":146},
{"s":"Fit","x":147.0,"y":325},{"s":"Fit","x":147.25,"y":348},{"s":"Fit","x":147.49,"y":360},{"s":"Fit","x":147.64,"y":361},{"s":"Fit","x":147.74,"y":358},{"s":"Fit","x":147.98,"y":348},{"s":"Fit","x":148.23,"y":328},{"s":"Fit","x":148.57,"y":298},{"s":"Fit","x":148.92,"y":271},{"s":"Fit","x":149.21,"y":245},{"s":"Fit","x":149.46,"y":223},{"s":"Fit","x":149.71,"y":193},{"s":"Fit","x":149.95,"y":176},{"s":"Fit","x":150.2,"y":171},{"s":"Fit","x":150.39,"y":170},{"s":"Fit","x":150.64,"y":165},{"s":"Fit","x":150.79,"y":156},{"s":"Fit","x":150.89,"y":148},{"s":"Fit","x":151.13,"y":138},{"s":"Fit","x":151.33,"y":135},{"s":"Fit","x":151.53,"y":133},{"s":"Fit","x":151.72,"y":131},{"s":"Fit","x":151.87,"y":128},{"s":"Fit","x":152.02,"y":121},{"s":"Fit","x":152.16,"y":115},{"s":"Fit","x":152.41,"y":110},{"s":"Fit","x":152.66,"y":108},{"s":"Fit","x":152.9,"y":106},{"s":"Fit","x":153.15,"y":105},{"s":"Fit","x":153.49,"y":106},{"s":"Fit","x":153.84,"y":108},{"s":"Fit","x":154.13,"y":110},{"s":"Fit","x":154.48,"y":111},{"s":"Fit","x":155.12,"y":115},{"s":"Fit","x":155.46,"y":116},{"s":"Fit","x":155.8,"y":117},{"s":"Fit","x":156.1,"y":115},{"s":"Fit","x":156.44,"y":115},{"s":"Fit","x":156.84,"y":116},{"s":"Fit","x":157.28,"y":117},{"s":"Fit","x":157.67,"y":115},{"s":"Fit","x":158.07,"y":114},{"s":"Fit","x":158.9,"y":111},{"s":"Fit","x":159.74,"y":108},{"s":"Fit","x":160.53,"y":106},{"s":"Fit","x":161.36,"y":102},{"s":"Fit","x":162.2,"y":100},{"s":"Fit","x":163.08,"y":99},{"s":"Fit","x":164.05,"y":99},
{"s":"D","x":147.0,"y":281},{"s":"D","x":147.1,"y":293},{"s":"D","x":147.2,"y":305},{"s":"D","x":147.3,"y":303},{"s":"D","x":147.34,"y":308},{"s":"D","x":147.44,"y":313},{"s":"D","x":147.49,"y":320},{"s":"D","x":147.59,"y":311},{"s":"D","x":147.69,"y":315},{"s":"D","x":147.79,"y":308},{"s":"D","x":147.84,"y":308},{"s":"D","x":147.93,"y":296},{"s":"D","x":147.98,"y":305},{"s":"D","x":148.08,"y":293},{"s":"D","x":148.18,"y":285},{"s":"D","x":148.28,"y":278},{"s":"D","x":148.43,"y":258},{"s":"D","x":148.57,"y":248},{"s":"D","x":148.67,"y":241},{"s":"D","x":148.82,"y":228},{"s":"D","x":148.92,"y":215},{"s":"D","x":149.07,"y":203},{"s":"D","x":149.21,"y":188},{"s":"D","x":149.36,"y":180},{"s":"D","x":149.56,"y":168},{"s":"D","x":149.71,"y":156},{"s":"D","x":149.8,"y":150},{"s":"D","x":149.95,"y":145},{"s":"D","x":150.15,"y":136},{"s":"D","x":150.34,"y":130},{"s":"D","x":150.54,"y":123},{"s":"D","x":150.74,"y":112},{"s":"D","x":150.94,"y":103},{"s":"D","x":151.13,"y":98},{"s":"D","x":151.38,"y":93},{"s":"D","x":151.62,"y":88},{"s":"D","x":151.87,"y":85},{"s":"D","x":152.07,"y":80},{"s":"D","x":152.26,"y":75},{"s":"D","x":152.46,"y":72},{"s":"D","x":152.66,"y":70},{"s":"D","x":153.0,"y":68},{"s":"D","x":153.25,"y":71},{"s":"D","x":153.49,"y":67},{"s":"D","x":153.89,"y":71},{"s":"D","x":154.1,"y":68},{"s":"D","x":154.33,"y":72},{"s":"D","x":154.72,"y":69},{"s":"D","x":155.12,"y":71},{"s":"D","x":155.46,"y":67},{"s":"D","x":155.8,"y":66},{"s":"D","x":156.1,"y":64},{"s":"D","x":156.44,"y":66},{"s":"D","x":156.79,"y":68},{"s":"D","x":157.08,"y":71},{"s":"D","x":157.57,"y":69},{"s":"D","x":158.07,"y":71},{"s":"D","x":158.56,"y":69},{"s":"D","x":159.05,"y":71},{"s":"D","x":159.4,"y":68},{"s":"D","x":159.74,"y":65},{"s":"D","x":160.23,"y":64},{"s":"D","x":160.72,"y":61},{"s":"D","x":161.02,"y":58},{"s":"D","x":161.36,"y":56},{"s":"D","x":161.86,"y":54},{"s":"D","x":162.2,"y":53},{"s":"D","x":162.99,"y":52},{"s":"D","x":163.58,"y":54},{"s":"D","x":164.05,"y":53},
{"s":"Residual","x":147.0,"y":36},{"s":"Residual","x":147.1,"y":42},{"s":"Residual","x":147.2,"y":32},{"s":"Residual","x":147.3,"y":39},{"s":"Residual","x":147.39,"y":28},{"s":"Residual","x":147.49,"y":40},{"s":"Residual","x":147.59,"y":30},{"s":"Residual","x":147.69,"y":36},{"s":"Residual","x":147.79,"y":26},{"s":"Residual","x":147.89,"y":38},{"s":"Residual","x":147.98,"y":32},{"s":"Residual","x":148.08,"y":41},{"s":"Residual","x":148.18,"y":34},{"s":"Residual","x":148.28,"y":43},{"s":"Residual","x":148.38,"y":36},{"s":"Residual","x":148.48,"y":47},{"s":"Residual","x":148.57,"y":40},{"s":"Residual","x":148.67,"y":45},{"s":"Residual","x":148.82,"y":39},{"s":"Residual","x":148.97,"y":44},{"s":"Residual","x":149.12,"y":38},{"s":"Residual","x":149.26,"y":43},{"s":"Residual","x":149.41,"y":37},{"s":"Residual","x":149.56,"y":42},{"s":"Residual","x":149.71,"y":36},{"s":"Residual","x":149.85,"y":39},{"s":"Residual","x":150.05,"y":34},{"s":"Residual","x":150.25,"y":32},{"s":"Residual","x":150.44,"y":29},{"s":"Residual","x":150.59,"y":25},{"s":"Residual","x":150.74,"y":24},{"s":"Residual","x":150.89,"y":28},{"s":"Residual","x":151.03,"y":33},{"s":"Residual","x":151.23,"y":36},{"s":"Residual","x":151.43,"y":39},{"s":"Residual","x":151.67,"y":38},{"s":"Residual","x":151.92,"y":41},{"s":"Residual","x":152.21,"y":40},{"s":"Residual","x":152.51,"y":43},{"s":"Residual","x":152.8,"y":41},{"s":"Residual","x":153.1,"y":44},{"s":"Residual","x":153.39,"y":41},{"s":"Residual","x":153.69,"y":42},{"s":"Residual","x":153.98,"y":39},{"s":"Residual","x":154.28,"y":38},{"s":"Residual","x":154.58,"y":36},{"s":"Residual","x":154.87,"y":33},{"s":"Residual","x":155.17,"y":30},{"s":"Residual","x":155.46,"y":29},{"s":"Residual","x":155.76,"y":30},{"s":"Residual","x":156.05,"y":28},{"s":"Residual","x":156.35,"y":31},{"s":"Residual","x":156.69,"y":32},{"s":"Residual","x":157.03,"y":34},{"s":"Residual","x":157.43,"y":32},{"s":"Residual","x":157.82,"y":35},{"s":"Residual","x":158.22,"y":34},{"s":"Residual","x":158.61,"y":37},{"s":"Residual","x":159.0,"y":35},{"s":"Residual","x":159.4,"y":37},{"s":"Residual","x":159.79,"y":34},{"s":"Residual","x":160.18,"y":36},{"s":"Residual","x":160.58,"y":33},{"s":"Residual","x":160.97,"y":35},{"s":"Residual","x":161.36,"y":32},{"s":"Residual","x":161.86,"y":34},{"s":"Residual","x":162.35,"y":32},{"s":"Residual","x":162.84,"y":34},{"s":"Residual","x":163.33,"y":32},{"s":"Residual","x":163.72,"y":33},{"s":"Residual","x":164.05,"y":34}
],
"lbig":[{"t":"XES hν = 200eV","s":"note","x":152.49,"y":695}],
"ltext":[
{"t":"(5)","s":"note","x":161.04,"y":551},
{"t":"CdSO","s":"CdSO4","x":160.16,"y":496},
{"t":"CuS","s":"CuS","x":162.05,"y":413},
{"t":"Cu","s":"Cu2S","x":161.85,"y":358},
{"t":"S","s":"Cu2S","x":163.27,"y":358},
{"t":"CdS","s":"CdS","x":161.99,"y":291},
{"t":"Au","s":"Au2S","x":161.72,"y":235},
{"t":"S","s":"Au2S","x":163.13,"y":235},
{"t":"D:control","s":"D","x":152.83,"y":231},
{"t":"C:air,dark","s":"C","x":152.66,"y":170},
{"t":"B:N","s":"B","x":152.59,"y":123},
{"t":",sun","s":"B","x":154.35,"y":123},
{"t":"A:air,sun","s":"A","x":152.66,"y":63}
],
"lsub":[
{"t":"4","s":"CdSO4","x":162.56,"y":488},
{"t":"2","s":"Cu2S","x":162.97,"y":346},
{"t":"2","s":"Au2S","x":162.83,"y":223},
{"t":"2","s":"B","x":154.05,"y":113}
],
"lrule":[{"x":160.94,"y":0,"y2":708}],
"rtext":[
{"t":"CdSO","s":"CdSO4","x":159.0,"y":469},
{"t":"CuS","s":"CuS","x":161.26,"y":414},
{"t":"Cu","s":"Cu2S","x":160.77,"y":368},
{"t":"S","s":"Cu2S","x":162.86,"y":368},
{"t":"Au","s":"Au2S","x":160.77,"y":291},
{"t":"S","s":"Au2S","x":162.81,"y":291},
{"t":"CdS","s":"CdS","x":161.02,"y":158},
{"t":"Fit","s":"Fit","x":161.86,"y":110},
{"t":"D","s":"D","x":162.25,"y":62},
{"t":"Residual","s":"note","x":158.51,"y":10}
],
"rbig":[{"t":"S L","s":"note","x":156.79,"y":693}],
"rsub":[
{"t":"4","s":"CdSO4","x":162.5,"y":459},
{"t":"2","s":"Cu2S","x":162.4,"y":360},
{"t":"2","s":"Au2S","x":162.35,"y":283},
{"t":"2,3","s":"note","x":158.95,"y":680}
],
"rrule":[{"y":53},{"y":35}]
},
"hconcat":[
{
"width":347,"height":736,
"resolve":{"axis":{"x":"independent","y":"independent"}},
"layer":[
{"data":{"name":"left"},"transform":[{"filter":"datum.s !== 'Au2S'"}],
"mark":{"type":"line","strokeWidth":1.1,"clip":true},
"encoding":{
"x":{"field":"x","type":"quantitative","scale":{"domain":[152.29,164.01],"nice":false,"zero":false},
"axis":{"orient":"bottom","values":[153,155,157,159,161,163],"tickSize":-10,"labelPadding":22,"labelFontSize":21,"labelFont":"Liberation Sans","title":"Emission Energy (eV)","titleFontSize":30,"titleFont":"Liberation Sans","titleX":338,"titleY":83,"titleBaseline":"alphabetic","titleAlign":"center","titleAngle":0}},
"y":{"field":"y","type":"quantitative","scale":{"domain":[0,736],"nice":false,"zero":false},
"axis":{"orient":"left","values":[34,71,108,145,182,219,256,293,330,367,404,441,478,515,552,589,626,663,700],"tickSize":-6,"labels":false,"title":"Intensity (a.u.)","titleFontSize":31,"titleFont":"Liberation Sans","titleX":-26,"titleY":388,"titleAngle":270,"titleBaseline":"alphabetic","titleAlign":"center"}},
"color":{"field":"s","type":"nominal","scale":{"domain":["note","CdSO4","CuS","Cu2S","CdS","Au2S","Fit","A","B","C","D","Residual"],"range":["black","black","black","black","black","black","black","black","#ff0000","#008000","#0000ff","#ff0000"]},"legend":null}
}},
{"data":{"name":"left"},"transform":[{"filter":"datum.s === 'Au2S'"}],
"mark":{"type":"line","strokeWidth":1.5,"clip":true,"color":"black"},
"encoding":{
"x":{"field":"x","type":"quantitative","axis":null},
"y":{"field":"y","type":"quantitative","axis":null}
}},
{"data":{"name":"ltext"},
"mark":{"type":"text","fontSize":26,"align":"left","baseline":"alphabetic","font":"Liberation Sans"},
"encoding":{
"x":{"field":"x","type":"quantitative","axis":{"orient":"bottom","values":[154,156,158,160,162],"tickSize":-6,"labels":false,"title":null}},
"y":{"field":"y","type":"quantitative","axis":null},
"text":{"field":"t"},
"color":{"field":"s","type":"nominal","scale":{"domain":["note","CdSO4","CuS","Cu2S","CdS","Au2S","Fit","A","B","C","D","Residual"],"range":["black","black","black","black","black","black","black","black","#ff0000","#008000","#0000ff","#ff0000"]},"legend":null}
}},
{"data":{"name":"lbig"},
"mark":{"type":"text","fontSize":28,"align":"left","baseline":"alphabetic","font":"Liberation Sans","color":"black"},
"encoding":{
"x":{"field":"x","type":"quantitative","axis":null},
"y":{"field":"y","type":"quantitative","axis":null},
"text":{"field":"t"}
}},
{"data":{"name":"lsub"},
"mark":{"type":"text","fontSize":17,"align":"left","baseline":"alphabetic","font":"Liberation Sans"},
"encoding":{
"x":{"field":"x","type":"quantitative","axis":null},
"y":{"field":"y","type":"quantitative","axis":null},
"text":{"field":"t"},
"color":{"field":"s","type":"nominal","scale":{"domain":["note","CdSO4","CuS","Cu2S","CdS","Au2S","Fit","A","B","C","D","Residual"],"range":["black","black","black","black","black","black","black","black","#ff0000","#008000","#0000ff","#ff0000"]},"legend":null}
}},
{"data":{"name":"lrule"},
"mark":{"type":"rule","color":"#333333","strokeWidth":1,"strokeDash":[1,2]},
"encoding":{
"x":{"field":"x","type":"quantitative","axis":{"orient":"top","values":[153,154,155,156,157,158,159,160,161,162,163],"tickSize":-8,"labels":false,"title":null}},
"y":{"field":"y","type":"quantitative","axis":null},
"y2":{"field":"y2"}
}}
]
},
{
"width":347,"height":736,
"resolve":{"axis":{"x":"independent","y":"independent"}},
"layer":[
{"data":{"name":"right"},"transform":[{"filter":"datum.s !== 'Au2S'"}],
"mark":{"type":"line","strokeWidth":1.1,"clip":true},
"encoding":{
"x":{"field":"x","type":"quantitative","scale":{"domain":[146.98,164.05],"nice":false,"zero":false},
"axis":{"orient":"bottom","values":[149,152,155,158,161,164],"tickSize":-10,"labelPadding":22,"labelFontSize":21,"labelFont":"Liberation Sans","title":null}},
"y":{"field":"y","type":"quantitative","scale":{"domain":[0,736],"nice":false,"zero":false},
"axis":{"orient":"right","values":[14,80,146,212,278,344,410,476,543,610,676],"tickSize":-6,"labels":false,"title":null}},
"color":{"field":"s","type":"nominal","scale":{"domain":["note","CdSO4","CuS","Cu2S","CdS","Au2S","Fit","A","B","C","D","Residual"],"range":["black","black","black","black","black","black","black","black","#ff0000","#008000","#0000ff","#ff0000"]},"legend":null}
}},
{"data":{"name":"right"},"transform":[{"filter":"datum.s === 'Au2S'"}],
"mark":{"type":"line","strokeWidth":1.6,"clip":true,"color":"black"},
"encoding":{
"x":{"field":"x","type":"quantitative","axis":null},
"y":{"field":"y","type":"quantitative","axis":null}
}},
{"data":{"name":"rrule"},
"mark":{"type":"rule","color":"#555555","strokeWidth":1,"strokeDash":[4,3]},
"encoding":{
"y":{"field":"y","type":"quantitative","axis":null}
}},
{"data":{"name":"rtext"},
"mark":{"type":"text","fontSize":26,"align":"left","baseline":"alphabetic","font":"Liberation Sans"},
"encoding":{
"x":{"field":"x","type":"quantitative","axis":{"orient":"bottom","values":[148,150,151,153,154,156,157,159,160,162,163],"tickSize":-6,"labels":false,"title":null}},
"y":{"field":"y","type":"quantitative","axis":null},
"text":{"field":"t"},
"color":{"field":"s","type":"nominal","scale":{"domain":["note","CdSO4","CuS","Cu2S","CdS","Au2S","Fit","A","B","C","D","Residual"],"range":["black","black","black","black","black","black","black","black","#ff0000","#008000","#0000ff","#ff0000"]},"legend":null}
}},
{"data":{"name":"rbig"},
"mark":{"type":"text","fontSize":30,"align":"left","baseline":"alphabetic","font":"Liberation Sans","color":"black"},
"encoding":{
"x":{"field":"x","type":"quantitative","axis":null},
"y":{"field":"y","type":"quantitative","axis":null},
"text":{"field":"t"}
}},
{"data":{"name":"rsub"},
"mark":{"type":"text","fontSize":17,"align":"left","baseline":"alphabetic","font":"Liberation Sans"},
"encoding":{
"x":{"field":"x","type":"quantitative","axis":{"orient":"top","values":[148,149,150,151,152,153,154,155,156,157,158,159,160,161,162,163],"tickSize":-8,"labels":false,"title":null}},
"y":{"field":"y","type":"quantitative","axis":null},
"text":{"field":"t"},
"color":{"field":"s","type":"nominal","scale":{"domain":["note","CdSO4","CuS","Cu2S","CdS","Au2S","Fit","A","B","C","D","Residual"],"range":["black","black","black","black","black","black","black","black","#ff0000","#008000","#0000ff","#ff0000"]},"legend":null}
}}
]
}
]
}
